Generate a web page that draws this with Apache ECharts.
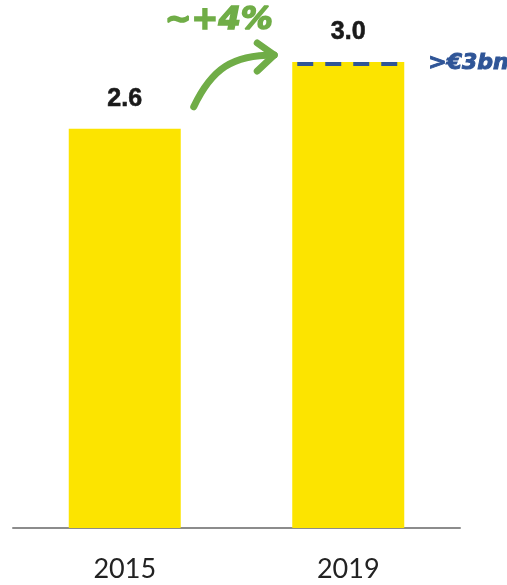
<!DOCTYPE html>
<html>
<head>
<meta charset="utf-8">
<script src="https://cdn.jsdelivr.net/npm/echarts@6/dist/echarts.min.js"></script>
<style>
html,body{margin:0;padding:0;background:#fff;}
#chart{width:507px;height:585px;}
</style>
</head>
<body>
<div id="chart"></div>
<script>
const categories = ['2015', '2019'];
const values = [2.57, 3.0];
const targetValue = 3.0;
const growthLabel = '~+4%';
const targetLabel = '>€3bn';

const chart = echarts.init(document.getElementById('chart'));
const option = {
  animation: false,
  grid: { left: 13, right: 47, top: 62, bottom: 57 },
  xAxis: {
    type: 'category',
    data: categories,
    axisLine: { lineStyle: { color: '#8c8c8c', width: 2 } },
    axisTick: { show: false },
    axisLabel: { color: '#222', fontSize: 27, fontFamily: 'Lato', margin: 28 }
  },
  yAxis: { type: 'value', min: 0, max: 3.0, show: false, splitLine: { show: false } },
  series: [{
    type: 'bar',
    data: values,
    barWidth: 112,
    itemStyle: { color: '#FCE400' },
    label: {
      show: true, position: 'top', distance: 17,
      formatter: p => p.value.toFixed(1),
      color: '#1a1a1a', fontSize: 25, fontWeight: 'bold', fontFamily: 'Liberation Sans',
      textBorderColor: '#1a1a1a', textBorderWidth: 0.6
    }
  }]
};
chart.setOption(option);

const p0 = chart.convertToPixel({ seriesIndex: 0 }, [0, values[0]]);
const p1 = chart.convertToPixel({ seriesIndex: 0 }, [1, targetValue]);
const half = 56;
const green = '#70AD47', blue = '#2F5597';
const tip = [p1[0] - 74, p1[1] - 7];
const start = [p0[0] + 69, p0[1] - 22];
chart.setOption({
  graphic: [
    { type: 'line', z: 100, shape: { x1: p1[0] - half + 5, y1: p1[1] + 2, x2: p1[0] + half - 5, y2: p1[1] + 2 },
      style: { stroke: blue, lineWidth: 4, lineDash: [16, 12] } },
    { type: 'text', z: 100, style: { text: targetLabel, x: p1[0] + half + 24, y: p1[1] + 1, verticalAlign: 'middle',
      fill: blue, stroke: blue, lineWidth: 1, fontStyle: 'italic', fontWeight: 'bold', fontSize: 22, fontFamily: 'DejaVu Sans' } },
    { type: 'text', z: 100, style: { text: growthLabel, x: start[0] + 25, y: 21, align: 'center', verticalAlign: 'middle',
      fill: green, stroke: green, lineWidth: 1.6, fontStyle: 'italic', fontWeight: 'bold', fontSize: 32, fontFamily: 'DejaVu Sans' } },
    { type: 'bezierCurve', z: 100, shape: { x1: start[0], y1: start[1], cpx1: start[0] + 18, cpy1: start[1] - 38,
        cpx2: tip[0] - 42, cpy2: tip[1], x2: tip[0], y2: tip[1] },
      style: { stroke: green, lineWidth: 7, lineCap: 'round', fill: null } },
    { type: 'polyline', z: 100, shape: { points: [[tip[0] - 17, tip[1] - 12], [tip[0], tip[1]], [tip[0] - 17, tip[1] + 16]] },
      style: { stroke: green, lineWidth: 7, lineCap: 'round', lineJoin: 'round', fill: null } }
  ]
});
</script>
</body>
</html>
